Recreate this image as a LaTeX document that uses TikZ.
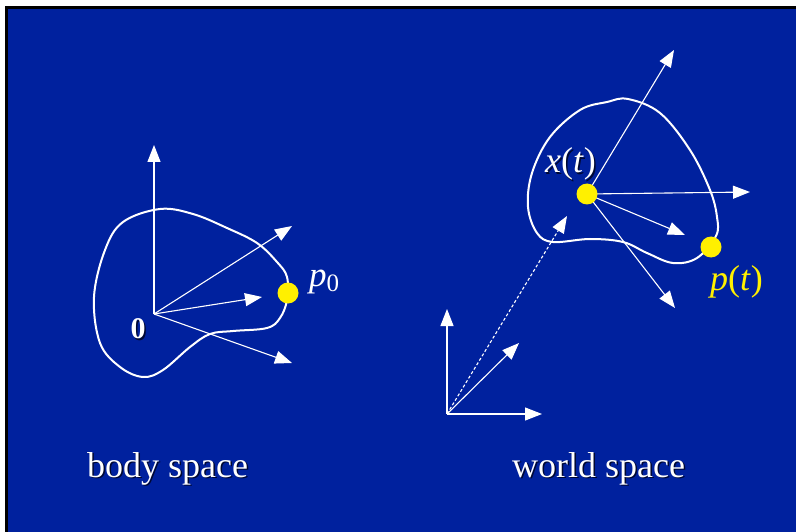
\documentclass[tikz,border=0pt]{standalone}
\usepackage{fontspec}
\setmainfont{Liberation Serif}
\usetikzlibrary{arrows.meta}
\definecolor{bg}{RGB}{0,33,158}
\definecolor{dotyellow}{RGB}{255,240,0}
\definecolor{shade}{RGB}{0,8,50}
\begin{document}
\begin{tikzpicture}[x=1pt,y=-1pt,
  vec/.style={white, line width=1.1pt, -{Triangle[length=17pt,width=13pt]}},
  dvec/.style={white, line width=1.1pt, dash pattern=on 3pt off 2.2pt, -{Triangle[length=17pt,width=13pt]}},
  blob/.style={white, line width=2pt},
  ydot/.style={circle, fill=dotyellow, minimum size=21pt, inner sep=0pt},
  lab/.style={text=white, font=\fontsize{36}{40}\selectfont, inner sep=0pt, anchor=base west},
  shd/.style={text=shade, font=\fontsize{36}{40}\selectfont, inner sep=0pt, anchor=base west},
]
\useasboundingbox (0,0) rectangle (796,532);
\fill[white] (0,0) rectangle (796,532);
\fill[black] (5,6) rectangle (796,532);
\fill[bg] (8,9) rectangle (796,532);

% ---------- body space ----------
\coordinate (O1) at (154,314);
\coordinate (b1) at (154,145);
\coordinate (b2) at (292,226);
\coordinate (b3) at (262,297);
\coordinate (b4) at (292,363);
\draw[blob] plot[smooth cycle, tension=0.6] coordinates {
  (160,209) (123,222) (105,250) (94,297) (100,343) (120,367) (143,377)
  (163,370) (190,347) (210,334) (233,331) (267,328) (280,318) (287,300)
  (287,277) (277,262) (257,243) (227,228) (193,214)};
\draw[vec] (O1) -- (b1);
\draw[vec] (O1) -- (b2);
\draw[vec] (O1) -- (b3);
\draw[vec] (O1) -- (b4);
\node[ydot] (p0) at (288,293) {};
\node[text=white, font=\fontsize{35}{40}\selectfont, inner sep=0pt, anchor=base west] (p0lab) at (309,287)
  {\textit{p}\raisebox{-5pt}{\fontsize{25}{25}\selectfont 0}};
\node[text=shade, font=\bfseries\fontsize{30}{32}\selectfont, inner sep=0pt] (zeroS) at (139.5,330.5) {0};
\node[text=white, font=\bfseries\fontsize{30}{32}\selectfont, inner sep=0pt] (zero) at (138,329) {0};

% ---------- world space ----------
\coordinate (O2) at (447,414);
\coordinate (w1) at (447,309);
\coordinate (w2) at (542,414);
\coordinate (w3) at (519,343);
\coordinate (X) at (587,194);
\coordinate (wd) at (567,216);
\coordinate (x1) at (674,50);
\coordinate (x2) at (750,192);
\coordinate (x3) at (685,235);
\coordinate (x4) at (675,308);
\draw[blob] plot[smooth cycle, tension=0.6] coordinates {
  (628,99) (660,113) (690,150) (710,190) (717,217) (716,236) (697,258)
  (673,263) (647,253) (623,242) (590,239) (553,242) (537,233) (528,207)
  (532,173) (550,137) (580,110) (607,102)};
\draw[vec] (O2) -- (w1);
\draw[vec] (O2) -- (w2);
\draw[vec] (O2) -- (w3);
\draw[dvec] (O2) -- (wd);
\draw[vec] (X) -- (x1);
\draw[vec] (X) -- (x2);
\draw[vec] (X) -- (x3);
\draw[vec] (X) -- (x4);
\node[ydot] (xt) at (X) {};
\node[ydot] (pt) at (711,247) {};
\node[shd] (xtlabS) at (546.5,174.5) {\textit{x}(\textit{t})};
\node[lab] (xtlab) at (545,173) {\textit{x}(\textit{t})};
\node[lab, text=dotyellow] (ptlab) at (710,290) {\textit{p}(\textit{t})};

% ---------- captions ----------
\node[shd] (bodyS) at (88.5,478.5) {body space};
\node[lab] (body) at (87,477) {body space};
\node[shd] (worldS) at (513.5,478.5) {world space};
\node[lab] (world) at (512,477) {world space};
\end{tikzpicture}
\end{document}
